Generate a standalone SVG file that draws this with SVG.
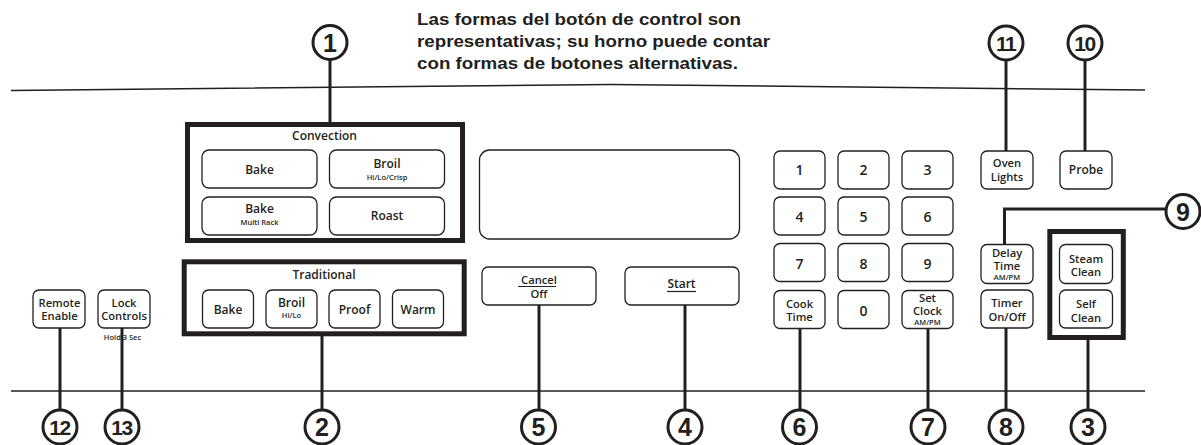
<svg xmlns="http://www.w3.org/2000/svg" width="1201" height="445" viewBox="0 0 1201 445">
<style>
.btn{fill:#fff;stroke:#231f20;stroke-width:1.3}
.grp{fill:none;stroke:#231f20;stroke-width:5}
.ln{stroke:#231f20;stroke-width:3;fill:none}
.rule{stroke:#231f20;stroke-width:1.5;fill:none}
.ul{stroke:#231f20;stroke-width:1.2}
.t{font-family:"Open Sans","Noto Sans","Liberation Sans",sans-serif;font-weight:600;font-size:12px;fill:#231f20;text-anchor:middle}
.m{font-size:11.2px}
.s{font-size:7.5px}
.d{font-size:14px}
.note{font-family:"Liberation Sans",Arial,sans-serif;font-weight:bold;font-size:16.5px;fill:#231f20}
.num circle{fill:#fff;stroke:#231f20;stroke-width:3}
.num text{font-family:"Liberation Sans",Arial,sans-serif;font-weight:bold;font-size:25px;fill:#231f20;text-anchor:middle}
.num text.w{font-size:21px;letter-spacing:-1.5px}
</style>
<rect width="1201" height="445" fill="#fff"/>
<g id="note">
<text class="note" x="417" y="24.5" textLength="324" lengthAdjust="spacingAndGlyphs">Las formas del botón de control son</text>
<text class="note" x="417" y="46.5" textLength="353" lengthAdjust="spacingAndGlyphs">representativas; su horno puede contar</text>
<text class="note" x="417" y="68.5" textLength="321" lengthAdjust="spacingAndGlyphs">con formas de botones alternativas.</text>
</g>
<g id="rules">
<polyline class="rule" points="11,90.5 610,84.5 1145,90"/>
<line class="rule" x1="11" y1="391" x2="1145" y2="391"/>
</g>
<g id="connectors">
<line class="ln" x1="330" y1="60" x2="330" y2="122"/>
<line class="ln" x1="1006" y1="60" x2="1006" y2="151"/>
<line class="ln" x1="1085" y1="60" x2="1085" y2="151"/>
<polyline class="ln" points="1166,209 1004.5,209 1004.5,244.5"/>
<line class="ln" x1="60" y1="328" x2="60" y2="410"/>
<line class="ln" x1="122" y1="325" x2="122" y2="410"/>
<line class="ln" x1="322" y1="336" x2="322" y2="410"/>
<line class="ln" x1="539" y1="305" x2="539" y2="410"/>
<line class="ln" x1="685" y1="305" x2="685" y2="410"/>
<line class="ln" x1="800" y1="329" x2="800" y2="410"/>
<line class="ln" x1="928" y1="329" x2="928" y2="410"/>
<line class="ln" x1="1006" y1="328" x2="1006" y2="410"/>
<line class="ln" x1="1088" y1="339" x2="1088" y2="410"/>
</g>
<g id="convection">
<rect class="grp" x="187.5" y="124.5" width="275" height="116"/>
<text class="t" x="324.5" y="140">Convection</text>
<rect class="btn" x="202" y="150" width="115" height="38" rx="7"/>
<text class="t" x="259.5" y="174">Bake</text>
<rect class="btn" x="329.5" y="150" width="115" height="38" rx="7"/>
<text class="t" x="387" y="168">Broil</text>
<text class="t s" x="387" y="179.5">Hi/Lo/Crisp</text>
<rect class="btn" x="202" y="197" width="115" height="38" rx="7"/>
<text class="t" x="259.5" y="212.5">Bake</text>
<text class="t s" x="259.5" y="224.5">Multi Rack</text>
<rect class="btn" x="329.5" y="197" width="115" height="38" rx="7"/>
<text class="t" x="387" y="220">Roast</text>
</g>
<g id="traditional">
<rect class="grp" x="184.2" y="261.8" width="280" height="72"/>
<text class="t" x="324" y="279">Traditional</text>
<rect class="btn" x="202.5" y="290" width="51" height="38" rx="6"/>
<text class="t" x="228" y="314">Bake</text>
<rect class="btn" x="266" y="290" width="51" height="38" rx="6"/>
<text class="t" x="291.5" y="306.5">Broil</text>
<text class="t s" x="291.5" y="318">Hi/Lo</text>
<rect class="btn" x="329" y="290" width="51" height="38" rx="6"/>
<text class="t" x="354.5" y="314">Proof</text>
<rect class="btn" x="392.5" y="290" width="51" height="38" rx="6"/>
<text class="t" x="418" y="314">Warm</text>
</g>
<g id="remote">
<rect class="btn" x="33" y="290" width="52" height="38" rx="6"/>
<text class="t m" x="59.5" y="307">Remote</text>
<text class="t m" x="59.5" y="320">Enable</text>
</g>
<g id="lock">
<rect class="btn" x="98" y="290" width="52" height="38" rx="6"/>
<text class="t m" x="124" y="306.5">Lock</text>
<text class="t m" x="124" y="320">Controls</text>
<text class="t s" x="122.5" y="340">Hold 3 Sec</text>
</g>
<g id="display">
<rect class="btn" x="479.5" y="150" width="260" height="89" rx="10"/>
</g>
<g id="cancel">
<rect class="btn" x="482" y="267" width="114" height="38" rx="6"/>
<text class="t m" x="539" y="284">Cancel</text>
<line class="ul" x1="518" y1="286.5" x2="556" y2="286.5"/>
<text class="t m" x="539" y="298">Off</text>
</g>
<g id="start">
<rect class="btn" x="625" y="267" width="114" height="38" rx="6"/>
<text class="t" x="681.5" y="288">Start</text>
<line class="ul" x1="667" y1="291.5" x2="696" y2="291.5"/>
</g>
<g id="keypad">
<rect class="btn" x="774" y="151" width="51" height="38" rx="6"/><text class="t d" x="799.5" y="174.5">1</text>
<rect class="btn" x="838" y="151" width="51" height="38" rx="6"/><text class="t d" x="863.5" y="174.5">2</text>
<rect class="btn" x="902" y="151" width="51" height="38" rx="6"/><text class="t d" x="927.5" y="174.5">3</text>
<rect class="btn" x="774" y="197" width="51" height="38" rx="6"/><text class="t d" x="799.5" y="221.5">4</text>
<rect class="btn" x="838" y="197" width="51" height="38" rx="6"/><text class="t d" x="863.5" y="221.5">5</text>
<rect class="btn" x="902" y="197" width="51" height="38" rx="6"/><text class="t d" x="927.5" y="221.5">6</text>
<rect class="btn" x="774" y="243.5" width="51" height="38" rx="6"/><text class="t d" x="799.5" y="268.5">7</text>
<rect class="btn" x="838" y="243.5" width="51" height="38" rx="6"/><text class="t d" x="863.5" y="268.5">8</text>
<rect class="btn" x="902" y="243.5" width="51" height="38" rx="6"/><text class="t d" x="927.5" y="268.5">9</text>
<rect class="btn" x="838" y="290.5" width="51" height="38" rx="6"/><text class="t d" x="863.5" y="316">0</text>
</g>
<g id="cooktime">
<rect class="btn" x="774" y="290.5" width="51" height="38" rx="6"/>
<text class="t m" x="799.5" y="308">Cook</text>
<text class="t m" x="799.5" y="321">Time</text>
</g>
<g id="setclock">
<rect class="btn" x="902" y="290.5" width="51" height="38" rx="6"/>
<text class="t m" x="927.5" y="302">Set</text>
<text class="t m" x="927.5" y="315">Clock</text>
<text class="t s" x="927.5" y="324.5">AM/PM</text>
</g>
<g id="ovenlights">
<rect class="btn" x="981" y="151" width="52" height="38" rx="6"/>
<text class="t m" x="1007" y="166.5">Oven</text>
<text class="t m" x="1007" y="180.5">Lights</text>
</g>
<g id="probe">
<rect class="btn" x="1060" y="151" width="52" height="38" rx="6"/>
<text class="t" x="1086" y="173.5">Probe</text>
</g>
<g id="delaytime">
<rect class="btn" x="981" y="244.5" width="52" height="39" rx="6"/>
<text class="t m" x="1007" y="257">Delay</text>
<text class="t m" x="1007" y="270">Time</text>
<text class="t s" x="1007" y="279.5">AM/PM</text>
</g>
<g id="timer">
<rect class="btn" x="981" y="290" width="52" height="38" rx="6"/>
<text class="t m" x="1007" y="306.5">Timer</text>
<text class="t m" x="1007" y="320.5">On/Off</text>
</g>
<g id="clean">
<rect class="grp" x="1049.8" y="231.5" width="73.5" height="106"/>
<rect class="btn" x="1059.5" y="244.5" width="53" height="39" rx="6"/>
<text class="t m" x="1086" y="262.5">Steam</text>
<text class="t m" x="1086" y="276">Clean</text>
<rect class="btn" x="1059.5" y="290" width="53" height="38" rx="6"/>
<text class="t m" x="1086" y="307.5">Self</text>
<text class="t m" x="1086" y="321.5">Clean</text>
</g>
<g id="callout-1" class="num"><circle cx="330" cy="42.5" r="17"/><text x="330" y="51.5">1</text></g>
<g id="callout-11" class="num"><circle cx="1006" cy="43" r="17"/><text class="w" x="1005.5" y="50.5">11</text></g>
<g id="callout-10" class="num"><circle cx="1085" cy="43" r="17"/><text class="w" x="1084.5" y="50.5">10</text></g>
<g id="callout-9" class="num"><circle cx="1183" cy="211.5" r="17"/><text x="1183" y="220.5">9</text></g>
<g id="callout-12" class="num"><circle cx="60" cy="427" r="17"/><text class="w" x="59.5" y="434.5">12</text></g>
<g id="callout-13" class="num"><circle cx="122" cy="427" r="17"/><text class="w" x="121.5" y="434.5">13</text></g>
<g id="callout-2" class="num"><circle cx="322" cy="427" r="17"/><text x="322" y="436">2</text></g>
<g id="callout-5" class="num"><circle cx="538.5" cy="427" r="17"/><text x="538.5" y="436">5</text></g>
<g id="callout-4" class="num"><circle cx="685" cy="427" r="17"/><text x="685" y="436">4</text></g>
<g id="callout-6" class="num"><circle cx="799.5" cy="427" r="17"/><text x="799.5" y="436">6</text></g>
<g id="callout-7" class="num"><circle cx="928" cy="427" r="17"/><text x="928" y="436">7</text></g>
<g id="callout-8" class="num"><circle cx="1006" cy="427" r="17"/><text x="1006" y="436">8</text></g>
<g id="callout-3" class="num"><circle cx="1088" cy="427" r="17"/><text x="1088" y="436">3</text></g>
</svg>
